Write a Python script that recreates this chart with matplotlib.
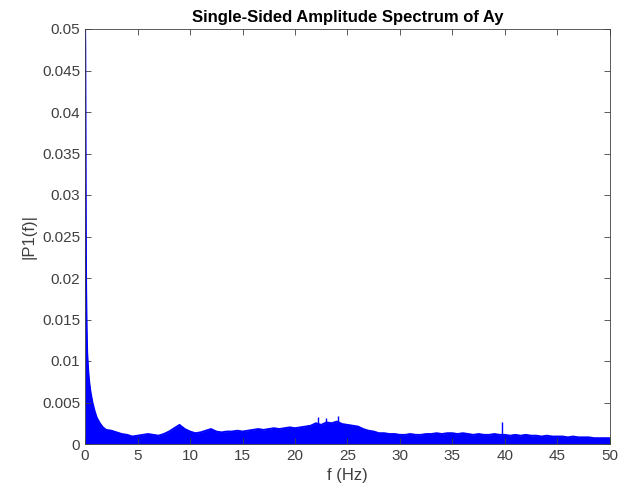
import matplotlib
matplotlib.use("Agg")
import matplotlib.pyplot as plt

plt.rcParams['font.family'] = ['Liberation Sans', 'DejaVu Sans']

# Envelope of |P1(f)| (Hz, amplitude)
f_low = [0, 0.02, 0.04, 0.06, 0.08, 0.1, 0.15, 0.2, 0.3, 0.4, 0.5, 0.7, 0.9, 1.1, 1.4, 1.7, 2.0]
p_low = [0.05, 0.048, 0.04, 0.03, 0.023, 0.019, 0.014, 0.011, 0.0088, 0.0074, 0.0064,
         0.0050, 0.0040, 0.0032, 0.0025, 0.0020, 0.0017]

f_main = [2.5 + 0.5 * i for i in range(96)]
p_main = [0.0016, 0.0014, 0.0012, 0.0011, 0.0009, 0.0010, 0.0011, 0.0012, 0.0011, 0.0010,
          0.0012, 0.0015, 0.0019, 0.0023, 0.0018, 0.0015, 0.0013, 0.0014, 0.0016, 0.0018,
          0.0015, 0.0014, 0.0015, 0.0015, 0.0016, 0.0015, 0.0016, 0.0017, 0.0018, 0.0017,
          0.0018, 0.0019, 0.0018, 0.0019, 0.0020, 0.0019, 0.0020, 0.0021, 0.0022, 0.0025,
          0.0023, 0.0026, 0.0025, 0.0027, 0.0024, 0.0023, 0.0022, 0.0021, 0.0018, 0.0016,
          0.0015, 0.0013, 0.0013, 0.0012, 0.0012, 0.0011, 0.0011, 0.0012, 0.0011, 0.0011,
          0.0012, 0.0012, 0.0013, 0.0012, 0.0013, 0.0013, 0.0012, 0.0013, 0.0012, 0.0011,
          0.0012, 0.0011, 0.0011, 0.0012, 0.0011, 0.0011, 0.0010, 0.0011, 0.0010, 0.0011,
          0.0010, 0.0010, 0.0009, 0.0010, 0.0009, 0.0009, 0.0009, 0.0008, 0.0009, 0.0008,
          0.0008, 0.0008, 0.0007, 0.0007, 0.0007, 0.0007]

# isolated spikes
spike_f = [22.2, 23.0, 24.1, 39.7]
spike_p = [0.0033, 0.0031, 0.0034, 0.0026]

xticks = [0, 5, 10, 15, 20, 25, 30, 35, 40, 45, 50]
yticks = [0, 0.005, 0.01, 0.015, 0.02, 0.025, 0.03, 0.035, 0.04, 0.045, 0.05]
ytick_labels = ['0', '0.005', '0.01', '0.015', '0.02', '0.025', '0.03', '0.035', '0.04', '0.045', '0.05']

f = f_low + f_main
p = p_low + p_main

fig = plt.figure(figsize=(6.21, 5.0), dpi=100)
ax = fig.add_axes([0.137, 0.112, 0.845, 0.830])

ax.fill_between(f, 0, p, color='#0000ff', linewidth=0)
ax.plot(f, p, color='#0000ff', linewidth=1.4)
ax.vlines(spike_f, 0, spike_p, color='#0000ff', linewidth=1.0)

ax.set_xlim(0, 50)
ax.set_ylim(0, 0.05)
ax.set_xticks(xticks)
ax.set_yticks(yticks)
ax.set_yticklabels(ytick_labels)
ax.tick_params(direction='in', top=True, right=True, labelsize=11,
               colors='#404040', length=4, width=0.6)
for s in ax.spines.values():
    s.set_color('#404040')
    s.set_linewidth(0.6)

ax.set_xlabel('f (Hz)', fontsize=12, color='#404040')
ax.set_ylabel('|P1(f)|', fontsize=12, color='#404040')
ax.set_title('Single-Sided Amplitude Spectrum of Ay', fontsize=12, fontweight='bold', pad=5)

fig.savefig('out.png', dpi=100)
